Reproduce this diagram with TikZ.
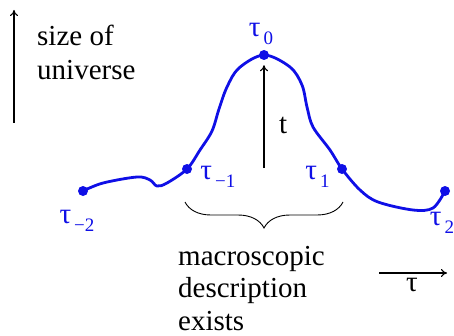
\documentclass[tikz,border=0pt]{standalone}
\usepackage{fontspec}
\setmainfont{Liberation Serif}
\usetikzlibrary{positioning,arrows.meta,decorations.pathreplacing}
\definecolor{curve-blue}{HTML}{0F0FE6}
\newcommand{\tausub}[1]{τ\kern3pt\raisebox{-8pt}{\fontsize{19}{19}\selectfont #1}}

\begin{document}
\begin{tikzpicture}[
    x=1pt, y=1pt,
    font=\fontsize{29}{34}\selectfont,
    >={To[length=6pt,width=8pt]}
  ]

  % Styles for dots, labels and lines
  \tikzset{
    dot/.style={circle, fill=curve-blue, inner sep=0pt, minimum size=10pt},
    tlabel/.style={text=curve-blue, inner sep=0pt},
    curve/.style={draw=curve-blue, line width=2.8pt, line cap=round, line join=round},
    axis/.style={->, line width=1.1pt},
    brace/.style={decorate, decoration={brace, amplitude=26pt}, line width=0.9pt},
    plain/.style={inner sep=0pt, align=left}
  }
  \useasboundingbox (0,0) rectangle (454,335);

  % Points on the curve
  \node (tm2)  [dot] at (83,144)  {};
  \node (tm1)  [dot] at (187,166) {};
  \node (tau0) [dot] at (264,280) {};
  \node (t1)   [dot] at (342,166) {};
  \node (t2)   [dot] at (445,144) {};

  % The history curve
  \draw[curve] plot[smooth, tension=0.55] coordinates {
      (tm2.center) (103,152) (137,158) (150,155) (157,149) (167,152)
      (tm1.center) (200,185) (212,204) (219,226) (227,248) (239,267)
      (tau0.center) (290,268) (302,250) (307,228) (313,208) (330,185)
      (t1.center) (360,145) (378,133) (413,125) (433,127) (t2.center)};

  % Labels of the points
  \node (lm2)  [tlabel, below=14pt of tm2, xshift=-6pt] {\tausub{−2}};
  \node (lm1)  [tlabel, right=8pt of tm1, yshift=-8pt]  {\tausub{−1}};
  \node (l0)   [tlabel, above=5pt of tau0, xshift=-3pt] {\tausub{0}};
  \node (l1)   [tlabel, left=7pt of t1, yshift=-8pt]    {\tausub{1}};
  \node (l2)   [tlabel, below=16pt of t2, xshift=-3pt]  {\tausub{2}};

  % Vertical axis
  \coordinate (sbot) at (14,212);
  \coordinate (stop) at (14,325);
  \draw[axis] (sbot) -- (stop);
  \node (size) [plain, anchor=base west] at (37,255) {size of\\universe};

  % Time arrow up to the top
  \coordinate (tbot) at (264,167);
  \draw[axis, shorten >=5pt] (tbot) -- (tau0.south);
  \node (tt) [plain, anchor=base west] at (279,202) {t};

  % Brace under the middle part
  \coordinate (bleft)  at (185,133);
  \coordinate (bright) at (343,133);
  \draw[brace] (bright) -- (bleft);
  \node (macro) [plain, anchor=base west] at (178,5)
      {macroscopic\\[-1.5pt]description\\[-1.5pt]exists};

  % Horizontal tau axis
  \coordinate (hleft)  at (379,62);
  \coordinate (hright) at (447,62);
  \draw[axis] (hleft) -- (hright);
  \node (htau) [plain, below=5pt of hleft, anchor=north, xshift=33pt] {τ};

\end{tikzpicture}
\end{document}
